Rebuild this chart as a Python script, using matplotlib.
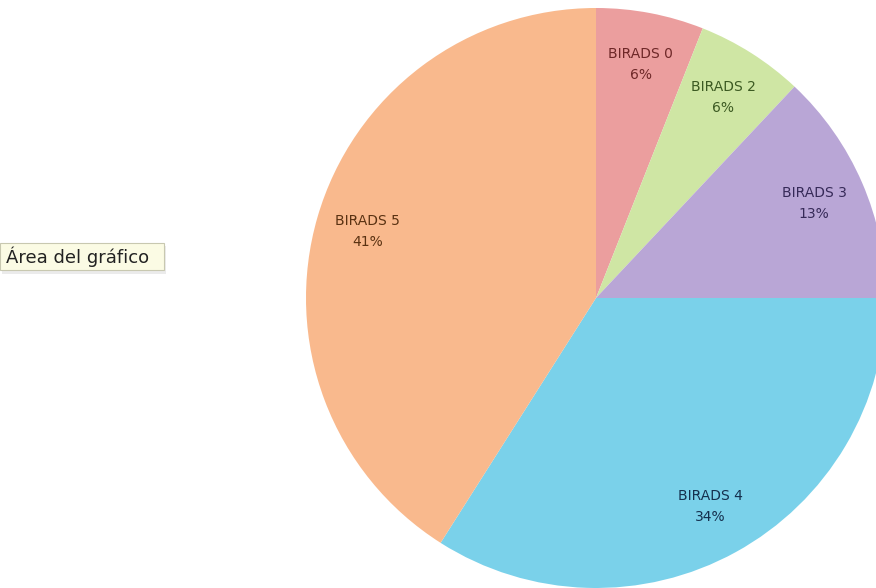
import matplotlib.pyplot as plt
from matplotlib.patches import FancyBboxPatch

categories = ["BIRADS 0", "BIRADS 2", "BIRADS 3", "BIRADS 4", "BIRADS 5"]
percents = [6, 6, 13, 34, 41]
slice_colors = ["#eb9e9e", "#cfe6a4", "#b9a6d6", "#7ad1ea", "#f9b98d"]
text_colors = ["#6e2828", "#3c5a22", "#362a58", "#15304e", "#5a3212"]
tooltip_text = "Área del gráfico"

fig = plt.figure(figsize=(8.76, 5.88), dpi=100)
ax = fig.add_axes([0, 0, 1, 1])

labels = [f"{c}\n{p}%" for c, p in zip(categories, percents)]
wedges, texts = ax.pie(
    percents,
    labels=labels,
    colors=slice_colors,
    startangle=90,
    counterclock=False,
    center=(596, 290),
    radius=290,
    labeldistance=0.82,
    frame=True,
    textprops=dict(fontsize=10, linespacing=1.6),
)
for t, c in zip(texts, text_colors):
    t.set_ha("center")
    t.set_va("center")
    t.set_color(c)
ax.set_xlim(0, 876)
ax.set_ylim(0, 588)
ax.set_aspect("equal")
ax.axis("off")

# tooltip box on the left
shadow = FancyBboxPatch((2, 314), 164, 28, boxstyle="square,pad=0",
                        fc="#d8d8d8", ec="none", alpha=0.5, zorder=4)
ax.add_patch(shadow)
box = FancyBboxPatch((0, 318), 164, 27, boxstyle="square,pad=0",
                     fc="#fbfbe4", ec="#c8c8b0", lw=0.8, zorder=5)
ax.add_patch(box)
ax.text(6, 331, tooltip_text, fontsize=13, color="#222222",
        ha="left", va="center", zorder=6)

fig.savefig("out.png", dpi=100)
